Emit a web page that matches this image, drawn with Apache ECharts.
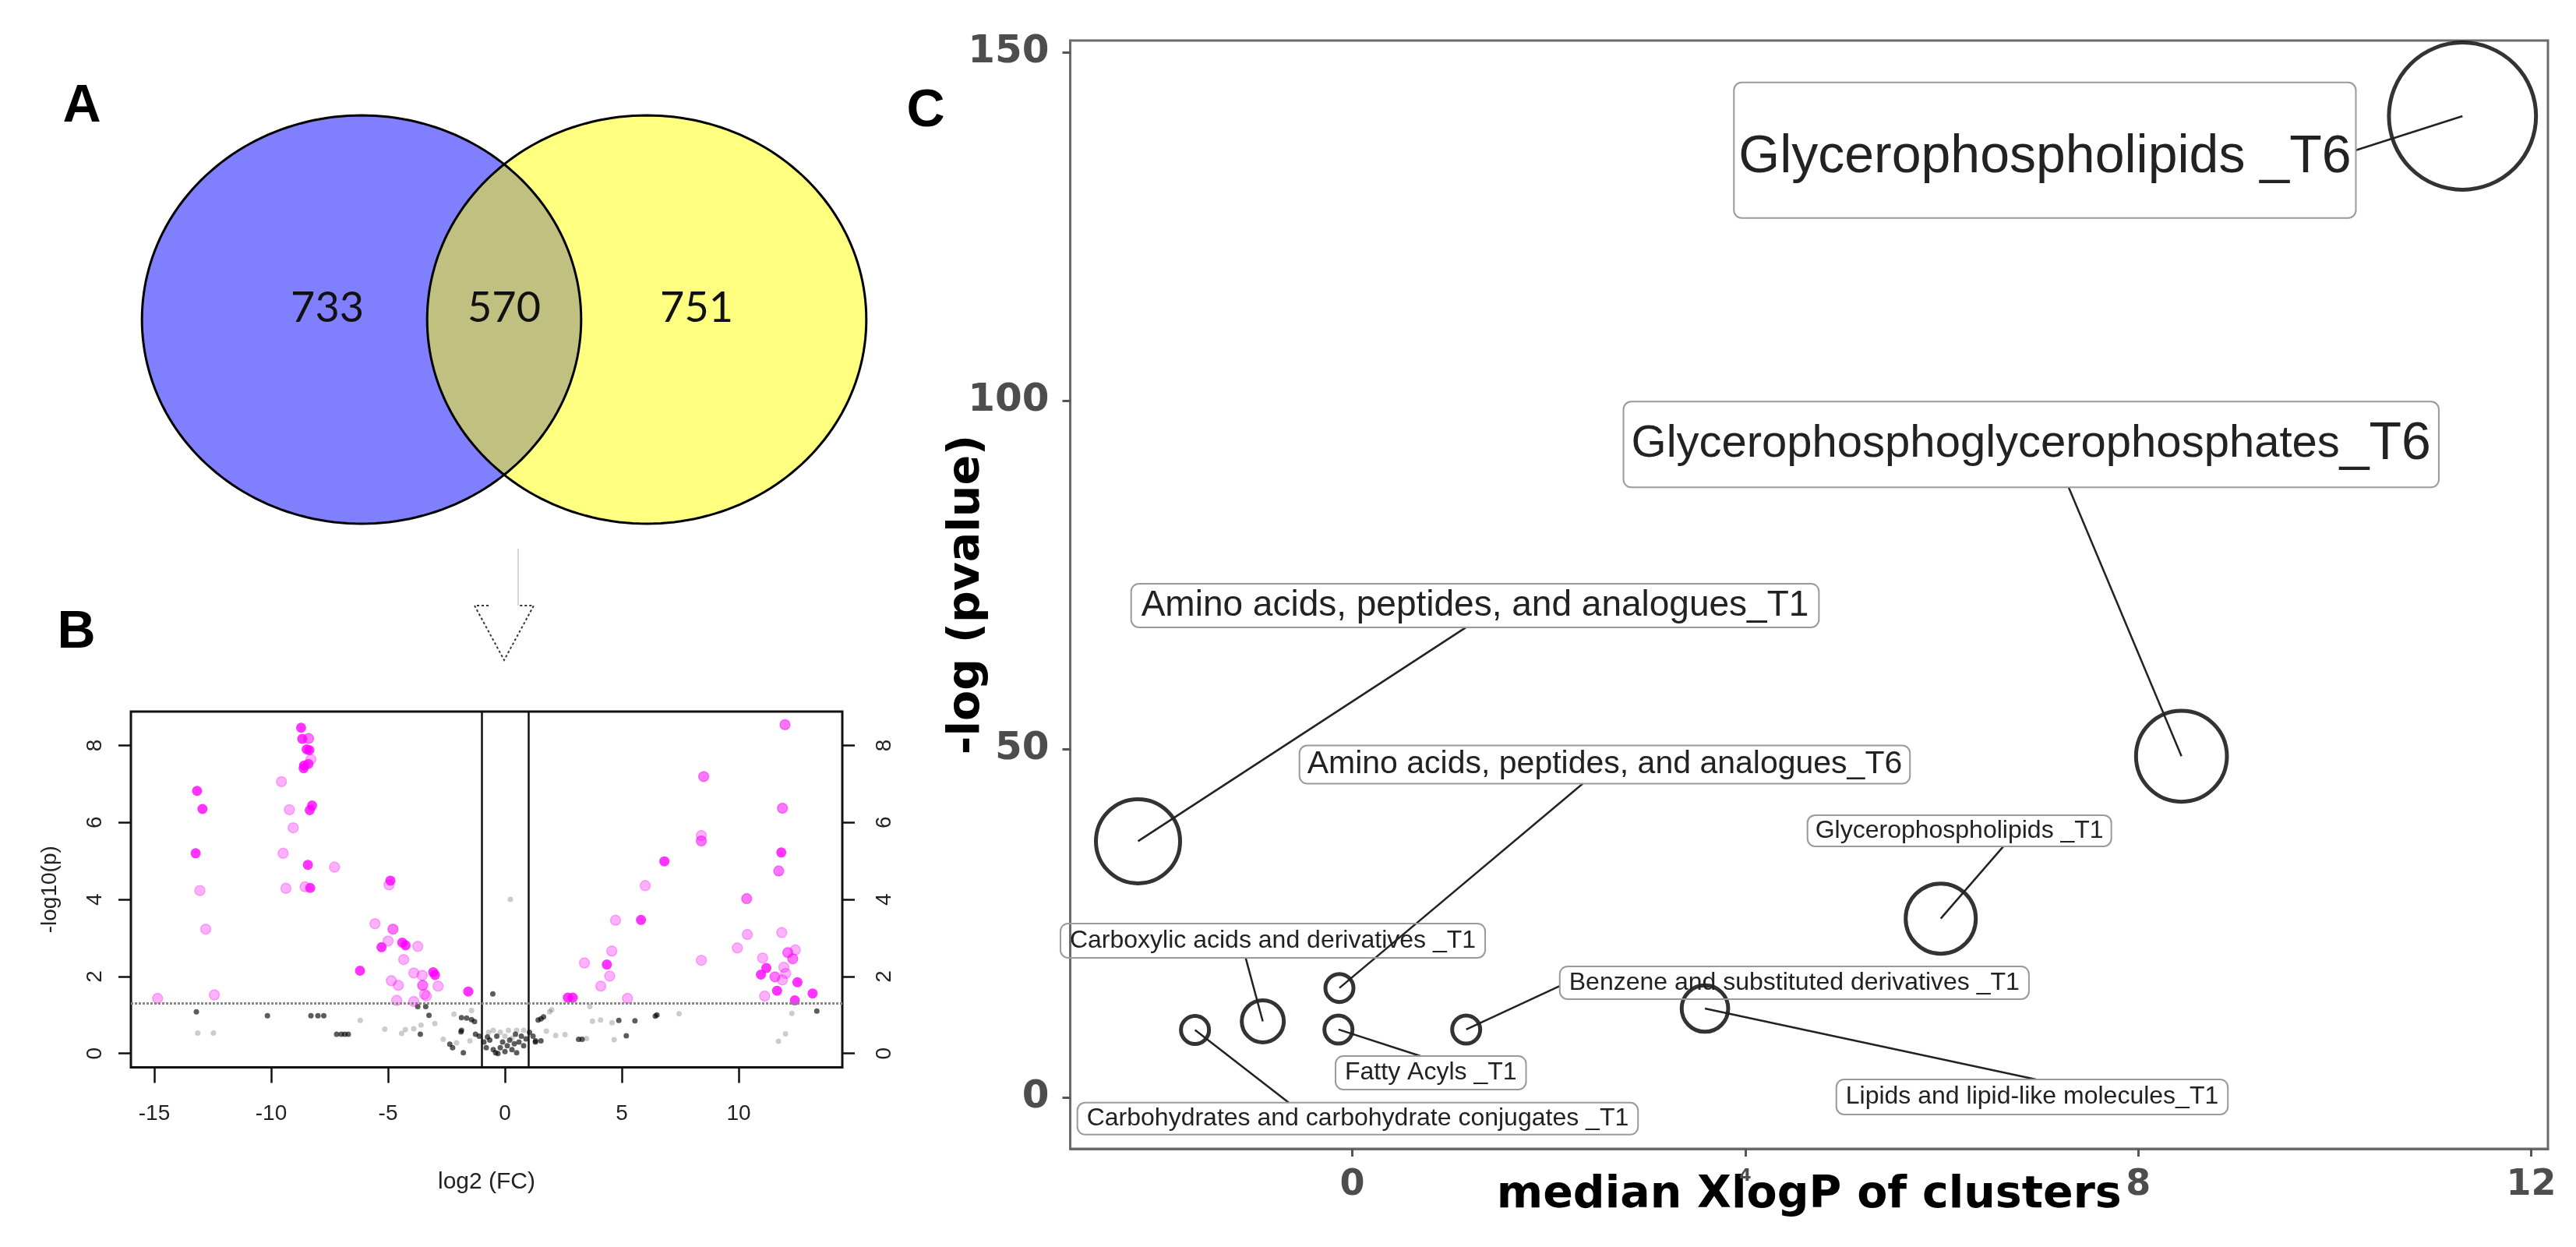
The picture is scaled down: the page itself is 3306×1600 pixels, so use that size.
<!DOCTYPE html>
<html><head><meta charset="utf-8">
<script src="https://cdn.jsdelivr.net/npm/echarts@6/dist/echarts.min.js"></script>
<style>html,body{margin:0;padding:0;background:#fff}#c{width:3306px;height:1600px}</style>
</head><body><div id="c"></div>
<script>
// ================= DATA =================
// Panel A: Venn counts (only set 1, shared, only set 2)
const vennCounts = [733, 570, 751];

// Panel B: volcano plot points [log2(FC), -log10(p)]
const volcanoStrong = [[-8.72,8.46],[-8.67,8.17],[-8.48,7.90],[-8.37,7.88],[-8.59,7.48],[-8.41,7.52],[-8.61,7.41],
  [-13.17,6.82],[-12.94,6.35],[-8.25,6.44],[-8.35,6.32],[-13.23,5.20],[-8.43,4.90],[-8.33,4.30],[-4.90,4.49],
  [-5.28,2.76],[-4.39,2.88],[-4.25,2.81],[-6.20,2.15],[-3.07,2.11],[-2.99,2.04],[-1.57,1.61],
  [6.82,4.99],[11.82,5.22],[5.82,3.47],[4.36,2.31],[11.18,2.22],[10.95,2.05],[12.51,1.85],[11.64,1.63],
  [13.16,1.56],[12.40,1.38],[2.69,1.45],[2.90,1.45]];
const volcanoMedium = [[-8.40,8.18],[-4.79,3.23],[-3.52,1.77],
  [11.98,8.54],[8.50,7.19],[11.87,6.37],[8.40,5.52],[11.71,4.74],[10.34,4.02],[12.10,2.62],[12.31,2.46],[11.55,1.99]];
const volcanoLight = [[-8.30,7.64],[-9.56,7.06],[-9.22,6.33],[-9.06,5.86],[-9.49,5.20],[-7.29,4.84],[-13.05,4.23],
  [-9.37,4.29],[-8.55,4.33],[-4.96,4.38],[-12.80,3.23],[-5.56,3.37],[-5.00,2.92],[-3.73,2.78],[-4.33,2.44],
  [-3.90,2.09],[-3.54,2.03],[-4.86,1.89],[-4.56,1.77],[-2.86,1.75],[-3.44,1.54],[-3.36,1.49],[-14.86,1.43],
  [-12.43,1.52],[-4.63,1.38],[-3.90,1.35],
  [8.40,5.66],[6.00,4.36],[4.73,3.46],[10.37,3.09],[11.84,3.14],[4.57,2.66],[9.94,2.74],[12.42,2.69],
  [11.02,2.48],[3.40,2.35],[8.40,2.42],[11.93,2.24],[12.01,2.08],[11.87,1.91],[4.48,2.01],[4.10,1.75],
  [11.11,1.49],[5.24,1.43]];
const volcanoNsDark = [[-13.2,1.08],[-10.16,0.98],[-8.3,0.98],[-8.0,0.98],[-7.75,0.98],[-7.2,0.5],[-7.0,0.5],
  [-6.85,0.5],[-6.7,0.5],[-3.62,0.50],[-3.73,1.22],[-3.39,1.22],[-3.25,0.99],[-1.86,0.93],[-1.64,0.92],
  [-1.43,0.88],[-1.30,0.83],[-1.86,0.60],[-2.36,0.24],[-1.78,0.02],[-0.52,1.55],[-1.26,0.50],[-0.75,0.43],
  [-2.24,0.15],[-1.88,0.56],[1.54,0.90],[1.65,0.95],[1.42,0.87],[1.31,0.33],[1.54,0.33],[6.43,0.97],
  [6.5,1.0],[5.56,0.85],[4.87,0.86],[13.34,1.10],[5.19,0.46],[3.15,0.37],[3.30,0.37],
  [-1.1,0.45],[-0.9,0.3],[-0.8,0.15],[-0.65,0.35],[-0.5,0.1],[-0.4,0.02],[-0.3,0.0],[-0.2,0.15],[-0.1,0.3],
  [0.0,0.05],[0.1,0.2],[0.2,0.35],[0.3,0.1],[0.4,0.25],[0.5,0.02],[0.6,0.3],[0.7,0.45],[0.8,0.2],[0.9,0.38],
  [1.05,0.55],[1.2,0.45],[1.3,0.3],[-0.35,0.45],[0.45,0.5]];
const volcanoNsLight = [[-6.19,0.86],[-13.14,0.53],[-12.47,0.53],[-5.14,0.63],[-4.42,0.52],[-4.26,0.62],
  [-3.90,0.64],[-3.59,0.74],[-3.0,0.78],[-2.18,1.02],[-1.43,1.12],[-1.50,0.33],[-2.64,0.37],[-2.07,0.28],
  [0.23,4.0],[3.63,1.22],[2.0,1.14],[7.45,1.03],[4.58,0.80],[4.09,0.87],[3.74,0.84],[12.27,1.04],[12.0,0.51],
  [11.7,0.32],[4.67,0.36],[3.49,0.39],[2.57,0.49],[2.17,0.47],[1.77,0.58],[1.91,1.08],
  [0.3,0.4],[-0.7,0.55],[0.5,0.6],[-0.2,0.55],[0.8,0.6],[0.0,0.45],[-0.5,0.6],[0.15,0.6]];
const volcanoXTicks = [-15, -10, -5, 0, 5, 10];
const volcanoYTicks = [0, 2, 4, 6, 8];
const fcCutoff = 1;
const pCutoff = 1.3;

// Panel C: clusters
const clusterNames = ['Glycerophospholipids _T6', 'Glycerophosphoglycerophosphates_T6',
  'Amino acids, peptides, and analogues_T1', 'Amino acids, peptides, and analogues_T6',
  'Glycerophospholipids _T1', 'Carboxylic acids and derivatives _T1',
  'Benzene and substituted derivatives _T1', 'Fatty Acyls _T1',
  'Lipids and lipid-like molecules_T1', 'Carbohydrates and carbohydrate conjugates _T1'];
const clusterXlogP = [11.30, 8.44, -2.18, -0.13, 5.99, -0.91, 1.16, -0.14, 3.59, -1.60];
const clusterLogP = [140.85, 49.0, 36.8, 15.75, 25.7, 10.96, 9.79, 9.79, 12.8, 9.72];
const clusterSize = [110, 42, 36, 4, 25, 9, 4, 4, 11, 4];
const bubbleXTicks = [0, 4, 8, 12];
const bubbleYTicks = [0, 50, 100, 150];

// ================= LAYOUT (label placement, not data) =================
const labelLayout = [
  {cx: 7.05, cy: 135.96, fs: 68, px: 6, py: 53, ax: 1.0, ay: 0.5, dy: 10},
  {cx: 6.91, cy: 93.74, fs: 58, fs2: 68, px: 10, py: 21, ax: 0.546, ay: 1, dy: 0},
  {cx: 1.25, cy: 70.63, fs: 46, px: 13, py: 5, ax: 0.487, ay: 1, dy: 0},
  {cx: 2.57, cy: 47.8, fs: 41, px: 10, py: 4, ax: 0.464, ay: 1, dy: 0},
  {cx: 6.18, cy: 38.31, fs: 32, px: 10, py: 4, ax: 0.645, ay: 1, dy: 0},
  {cx: -0.808, cy: 22.54, fs: 32, px: 12, py: 6, ax: 0.436, ay: 1, dy: 0},
  {cx: 4.50, cy: 16.5, fs: 32, px: 12, py: 5, ax: 0, ay: 0.6, dy: 0},
  {cx: 0.80, cy: 3.58, fs: 32, px: 12, py: 5.5, ax: 0.446, ay: 0, dy: 0},
  {cx: 6.92, cy: 0.11, fs: 32, px: 12, py: 6.5, ax: 0.51, ay: 0, dy: 0},
  {cx: 0.056, cy: -3.0, fs: 32, px: 12, py: 4.5, ax: 0.377, ay: 0, dy: 0}
];
const vennLabelPos = [[-1.24, 0.077], [0, 0.077], [1.35, 0.077]];

const LS = '"Liberation Sans", Arial, sans-serif';
const NARROW = '"Liberation Sans Narrow", "Liberation Sans", Arial, sans-serif';
const DJ = '"DejaVu Sans", sans-serif';

const mctx = document.createElement('canvas').getContext('2d');
function tw(text, size, family) {
  mctx.font = 'normal ' + size + 'px ' + (family || LS);
  return mctx.measureText(text).width;
}

function ellipsePts(cx, cy, rx, ry, t0, t1, n) {
  const pts = [];
  for (let i = 0; i <= n; i++) {
    const t = t0 + (t1 - t0) * i / n;
    pts.push([cx + rx * Math.cos(t), cy + ry * Math.sin(t)]);
  }
  return pts;
}

const chart = echarts.init(document.getElementById('c'), null, {renderer: 'canvas'});

function vennRender(params, api) {
  const cA = api.coord([-1, 0]), cB = api.coord([1, 0]);
  const rx = api.size([1.54, 0])[0], ry = api.size([0, 1.432])[1];
  const mid = (cA[0] + cB[0]) / 2;
  const T = Math.acos((mid - cA[0]) / rx);
  const full = 200;
  const blue = ellipsePts(cA[0], cA[1], rx, ry, 0, 2 * Math.PI, full);
  const yellow = ellipsePts(cB[0], cB[1], rx, ry, 0, 2 * Math.PI, full);
  const lens = ellipsePts(cA[0], cA[1], rx, ry, -T, T, 80)
    .concat(ellipsePts(cB[0], cB[1], rx, ry, Math.PI - T, Math.PI + T, 80));
  const children = [
    {type: 'polygon', shape: {points: blue}, style: {fill: '#8080ff', stroke: null}},
    {type: 'polygon', shape: {points: yellow}, style: {fill: '#ffff80', stroke: null}},
    {type: 'polygon', shape: {points: lens}, style: {fill: '#c0c080', stroke: null}},
    {type: 'polygon', shape: {points: blue}, style: {fill: null, stroke: '#000', lineWidth: 3}},
    {type: 'polygon', shape: {points: yellow}, style: {fill: null, stroke: '#000', lineWidth: 3}}
  ];
  vennCounts.forEach((c, i) => {
    const p = api.coord(vennLabelPos[i]);
    children.push({type: 'text', x: p[0], y: p[1], style: {text: String(c), fontSize: 54,
      fontFamily: 'Lato, "Open Sans", sans-serif', fill: '#111', align: 'center', verticalAlign: 'middle'}});
  });
  return {type: 'group', children};
}

function labelRender(params, api) {
  const i = api.value(2);
  const L = labelLayout[i];
  const p = api.coord([api.value(0), api.value(1)]);
  const c = api.coord([L.cx, L.cy]);
  const name = clusterNames[i];
  let w, textStyle;
  if (L.fs2) {
    const a = name.slice(0, name.length - 3), b = name.slice(name.length - 3);
    w = tw(a, L.fs) + tw(b, L.fs2);
    textStyle = {text: '{a|' + a + '}{b|' + b + '}',
      rich: {a: {fontSize: L.fs, fontFamily: LS, fill: '#222'}, b: {fontSize: L.fs2, fontFamily: LS, fill: '#222'}},
      align: 'center', verticalAlign: 'middle'};
  } else {
    w = tw(name, L.fs);
    textStyle = {text: name, fontSize: L.fs, fontFamily: LS, fill: '#222', align: 'center', verticalAlign: 'middle'};
  }
  const bw = w + 2 * L.px, bh = (L.fs2 || L.fs) + 2 * L.py;
  const bx = c[0] - bw / 2, by = c[1] - bh / 2;
  const sx = bx + L.ax * bw, sy = by + L.ay * bh;
  return {type: 'group', children: [
    {type: 'line', shape: {x1: sx, y1: sy, x2: p[0], y2: p[1]}, style: {stroke: '#222', lineWidth: 2.5}},
    {type: 'rect', shape: {x: bx, y: by, width: bw, height: bh, r: 10}, style: {fill: null, stroke: '#9a9a9a', lineWidth: 2}},
    {type: 'text', x: c[0], y: c[1] + L.dy, style: textStyle}
  ]};
}

const ptSeries = (data, color, size, border) => ({
  type: 'scatter', xAxisIndex: 1, yAxisIndex: 1, data, symbolSize: size, silent: true,
  itemStyle: {color, borderColor: border || 'transparent', borderWidth: border ? 1.5 : 0}
});

const option = {
  animation: false,
  backgroundColor: '#fff',
  grid: [
    {left: 98, top: 99, width: 1098, height: 622, show: false},
    {left: 168, top: 913, width: 913, height: 456.5, show: true, borderColor: '#111', borderWidth: 3},
    {left: 1373.5, top: 52, width: 1896.5, height: 1422, show: true, borderColor: '#6a6a6a', borderWidth: 3}
  ],
  xAxis: [
    {gridIndex: 0, type: 'value', min: -3, max: 3, show: false},
    {gridIndex: 1, type: 'value', min: -16, max: 14.43, nameMoveOverlap: false,
      axisLine: {show: false, onZero: false}, splitLine: {show: false},
      axisTick: {show: true, customValues: volcanoXTicks, length: 20, lineStyle: {color: '#111', width: 2.5}},
      axisLabel: {customValues: volcanoXTicks, margin: 46, fontSize: 28, fontFamily: NARROW, color: '#222'},
      name: 'log2 (FC)', nameLocation: 'middle', nameGap: 132,
      nameTextStyle: {fontSize: 30, fontFamily: NARROW, color: '#222'}},
    {gridIndex: 2, type: 'value', min: -2.87, max: 12.17, nameMoveOverlap: false,
      axisLine: {show: true, onZero: false, lineStyle: {color: '#6a6a6a', width: 3}}, splitLine: {show: false},
      axisTick: {show: true, customValues: bubbleXTicks, length: 10, lineStyle: {color: '#555', width: 3}},
      axisLabel: {customValues: bubbleXTicks, margin: 24,
        formatter: v => v === 4 ? '{s|4}' : '{n|' + v + '}',
        rich: {n: {fontSize: 46, fontWeight: 'bold', fontFamily: DJ, color: '#4d4d4d'},
               s: {fontSize: 22, fontWeight: 'bold', fontFamily: DJ, color: '#4d4d4d'}}},
      name: 'median XlogP of clusters', nameLocation: 'middle', nameGap: 32,
      nameTextStyle: {fontSize: 57, fontWeight: 'bold', fontFamily: DJ, color: '#000'}}
  ],
  yAxis: [
    {gridIndex: 0, type: 'value', min: -1.7, max: 1.7, show: false},
    {gridIndex: 1, type: 'value', min: -0.36, max: 8.88, nameMoveOverlap: false,
      axisLine: {show: false, onZero: false}, splitLine: {show: false},
      axisTick: {show: true, customValues: volcanoYTicks, length: 16, lineStyle: {color: '#111', width: 2.5}},
      axisLabel: {customValues: volcanoYTicks, rotate: 90, margin: 32, fontSize: 28, fontFamily: NARROW, color: '#222'},
      name: '-log10(p)', nameLocation: 'middle', nameGap: 90,
      nameTextStyle: {fontSize: 28, fontFamily: NARROW, color: '#222'}},
    {gridIndex: 1, type: 'value', position: 'right', min: -0.36, max: 8.88,
      axisLine: {show: false, onZero: false}, splitLine: {show: false},
      axisTick: {show: true, customValues: volcanoYTicks, length: 16, lineStyle: {color: '#111', width: 2.5}},
      axisLabel: {customValues: volcanoYTicks, rotate: 90, margin: 40, fontSize: 28, fontFamily: NARROW, color: '#222'}},
    {gridIndex: 2, type: 'value', min: -7.33, max: 151.7, nameMoveOverlap: false,
      axisLine: {show: true, onZero: false, lineStyle: {color: '#6a6a6a', width: 3}}, splitLine: {show: false},
      axisTick: {show: true, customValues: bubbleYTicks, length: 10, lineStyle: {color: '#555', width: 3}},
      axisLabel: {customValues: bubbleYTicks, margin: 27, fontSize: 50, fontWeight: 'bold', fontFamily: DJ, color: '#4d4d4d'},
      name: '-log (pvalue)', nameLocation: 'middle', nameGap: 104,
      nameTextStyle: {fontSize: 57, fontWeight: 'bold', fontFamily: DJ, color: '#000'}}
  ],
  graphic: [
    {type: 'text', x: 105, y: 137, style: {text: 'A', fontSize: 68, fontWeight: 'bold', fontFamily: NARROW, fill: '#000', align: 'center', verticalAlign: 'middle'}},
    {type: 'text', x: 98, y: 812, style: {text: 'B', fontSize: 68, fontWeight: 'bold', fontFamily: NARROW, fill: '#000', align: 'center', verticalAlign: 'middle'}},
    {type: 'text', x: 1188, y: 143, style: {text: 'C', fontSize: 68, fontWeight: 'bold', fontFamily: NARROW, fill: '#000', align: 'center', verticalAlign: 'middle'}},
    {type: 'line', shape: {x1: 665, y1: 704, x2: 665, y2: 777}, style: {stroke: '#c8c8c8', lineWidth: 1.5}},
    {type: 'polyline', shape: {points: [[627, 777], [609, 777], [647, 847], [685, 777], [666, 777]]},
      style: {stroke: '#333', lineWidth: 2, lineDash: [3, 3], fill: null}}
  ],
  series: [
    {type: 'custom', xAxisIndex: 0, yAxisIndex: 0, data: [[0, 0]], renderItem: vennRender, silent: true},
    Object.assign(ptSeries(volcanoNsLight, 'rgba(0,0,0,0.25)', 7), {
      markLine: {silent: true, symbol: 'none', label: {show: false}, animation: false,
        data: [
          {xAxis: -fcCutoff, lineStyle: {color: '#111', width: 2.5, type: 'solid'}},
          {xAxis: fcCutoff, lineStyle: {color: '#111', width: 2.5, type: 'solid'}},
          {yAxis: pCutoff, lineStyle: {color: '#888', width: 3, type: [3, 2]}}
        ]}
    }),
    ptSeries(volcanoNsDark, 'rgba(0,0,0,0.8)', 7),
    ptSeries(volcanoLight, 'rgba(255,0,255,0.38)', 13, 'rgba(230,0,230,0.35)'),
    ptSeries(volcanoMedium, 'rgba(255,0,255,0.68)', 13, 'rgba(230,0,230,0.5)'),
    ptSeries(volcanoStrong, '#ff00ff', 13),
    {type: 'scatter', xAxisIndex: 2, yAxisIndex: 3, silent: true,
      data: clusterXlogP.map((x, i) => [x, clusterLogP[i], clusterSize[i]]),
      symbolSize: v => 18 * Math.sqrt(v[2]),
      itemStyle: {color: 'rgba(0,0,0,0)', borderColor: '#000', borderWidth: 5}},
    {type: 'custom', xAxisIndex: 2, yAxisIndex: 3, silent: true,
      data: clusterXlogP.map((x, i) => [x, clusterLogP[i], i]),
      renderItem: labelRender, z: 5}
  ]
};
chart.setOption(option);
</script>
</body></html>
